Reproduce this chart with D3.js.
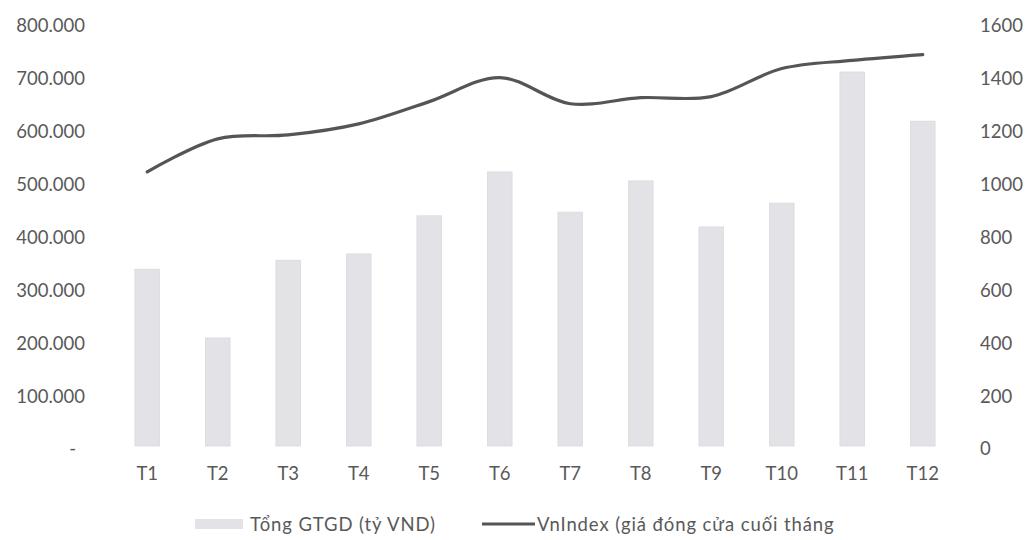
<!DOCTYPE html>
<html>
<head>
<meta charset="utf-8">
<script src="https://cdn.jsdelivr.net/npm/d3@7"></script>
<style>
  html, body { margin: 0; padding: 0; background: #ffffff; }
  svg { display: block; }
  text { font-family: Lato, "Open Sans", sans-serif; fill: #595959; }
</style>
</head>
<body>
<svg id="chart" width="1029" height="540"></svg>
<script>
const categories = ["T1","T2","T3","T4","T5","T6","T7","T8","T9","T10","T11","T12"];
const tradingValue = [340000, 210000, 357000, 369000, 441000, 524000, 448000, 507000, 420000, 465000, 713000, 620000];
const vnindex = [1048, 1173, 1188, 1230, 1314, 1405, 1306, 1329, 1333, 1439, 1470, 1492];
const leftTicks = [0, 100000, 200000, 300000, 400000, 500000, 600000, 700000, 800000];
const rightTicks = [0, 200, 400, 600, 800, 1000, 1200, 1400, 1600];
const legendLabels = ["Tổng GTGD (tỷ VND)", "VnIndex (giá đóng cửa cuối tháng"];

const svg = d3.select("#chart");
const plot = { left: 112, right: 958, top: 26, bottom: 449 };

const x = d3.scaleBand().domain(categories).range([plot.left, plot.right]).paddingInner(0.65).paddingOuter(0.325);
const yL = d3.scaleLinear().domain([0, 800000]).range([plot.bottom, plot.top]);
const yR = d3.scaleLinear().domain([0, 1600]).range([plot.bottom, plot.top]);

const fmtLeft = v => v === 0 ? "-" : d3.format(",")(v).replace(/,/g, ".");
const fmtRight = v => String(v);

// bars
svg.append("g").selectAll("rect").data(tradingValue).join("rect")
  .attr("x", (d, i) => x(categories[i]))
  .attr("width", x.bandwidth())
  .attr("y", d => yL(d))
  .attr("height", d => yL(0) - yL(d) - 3)
  .attr("fill", "#e3e3e7")
  .attr("stroke", "#dadade")
  .attr("stroke-width", 0.8);

// line
const line = d3.line()
  .x((d, i) => x(categories[i]) + x.bandwidth() / 2)
  .y(d => yR(d))
  .curve(d3.curveCatmullRom.alpha(0.5));
svg.append("path").datum(vnindex)
  .attr("d", line)
  .attr("fill", "none")
  .attr("stroke", "#555555")
  .attr("stroke-width", 3.2)
  .attr("stroke-linecap", "round");

const axisFont = "18.5px";

// left axis
const axL = d3.axisLeft(yL).tickValues(leftTicks).tickFormat(fmtLeft).tickSize(0).tickPadding(0);
const gL = svg.append("g").attr("transform", "translate(85,0)").call(axL);
gL.select(".domain").remove();
gL.selectAll("text").style("font-size", axisFont).style("font-family", "Lato, sans-serif").attr("fill", "#595959")
  .attr("dx", d => d === 0 ? -9 : 0);

// right axis
const axR = d3.axisRight(yR).tickValues(rightTicks).tickFormat(fmtRight).tickSize(0).tickPadding(0);
const gR = svg.append("g").attr("transform", "translate(980,0)").call(axR);
gR.select(".domain").remove();
gR.selectAll("text").style("font-size", axisFont).style("font-family", "Lato, sans-serif").attr("fill", "#595959");

// bottom axis
const axB = d3.axisBottom(x).tickSize(0).tickPadding(0);
const gB = svg.append("g").attr("transform", "translate(0,467)").call(axB);
gB.select(".domain").remove();
gB.selectAll("text").style("font-size", axisFont).style("font-family", "Lato, sans-serif").attr("fill", "#595959");

// legend
const lg = svg.append("g");
lg.append("rect").attr("x", 195).attr("y", 519).attr("width", 48).attr("height", 10).attr("fill", "#e3e3e7");
lg.append("text").attr("x", 250).attr("y", 531).style("font-size", "18.5px").style("letter-spacing", "0.9px").text(legendLabels[0]);
lg.append("line").attr("x1", 482).attr("x2", 535).attr("y1", 524).attr("y2", 524)
  .attr("stroke", "#555555").attr("stroke-width", 3.2);
lg.append("text").attr("x", 537).attr("y", 531).style("font-size", "18.5px").style("letter-spacing", "0.9px").text(legendLabels[1]);
</script>
</body>
</html>
